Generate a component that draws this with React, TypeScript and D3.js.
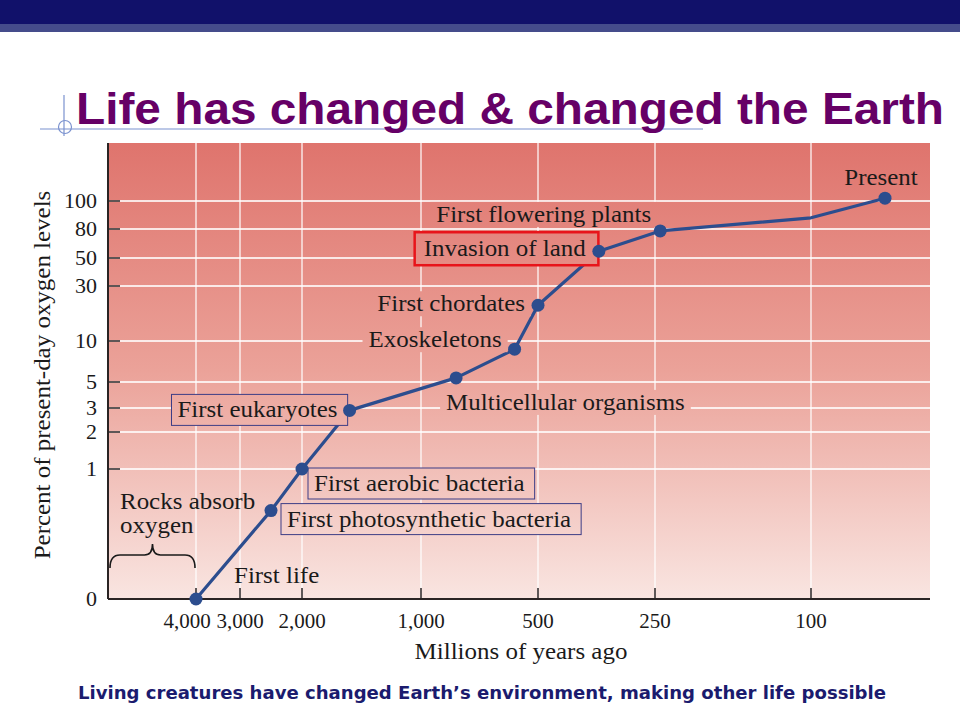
import React, { useEffect, useRef } from "react";
import * as d3 from "d3";

// ---- data ----
const eventNames = [
  "First life",
  "First photosynthetic bacteria",
  "First aerobic bacteria",
  "First eukaryotes",
  "Multicellular organisms",
  "Exoskeletons",
  "First chordates",
  "Invasion of land",
  "First flowering plants",
  "",
  "Present",
];
const millionsYearsAgo = [4000, 2500, 2000, 1600, 850, 600, 500, 370, 245, 100, 0];
const oxygenPercent = [0, 0.68, 1, 2.9, 5.5, 9, 23, 57, 78, 88, 102];

const xTickValues = [4000, 3000, 2000, 1000, 500, 250, 100];
const xTickLabels = ["4,000", "3,000", "2,000", "1,000", "500", "250", "100"];
const yTickValues = [0, 1, 2, 3, 5, 10, 30, 50, 80, 100];
const yTickLabels = ["0", "1", "2", "3", "5", "10", "30", "50", "80", "100"];

const titleText = "Life has changed & changed the Earth";
const captionText = "Living creatures have changed Earth\u2019s environment, making other life possible";
const xAxisTitle = "Millions of years ago";
const yAxisTitle = "Percent of present-day oxygen levels";

// ---- layout ----
const W = 960, H = 720;
const P = { left: 108, top: 143, right: 930, bottom: 599 };
// the hand-drawn axes are uneven: piecewise scales through the tick marks
const xBreakDomain = [4000, 3000, 2000, 1000, 500, 250, 100, 0];
const xBreakOffsets = [88, 132, 194, 313, 430, 547, 703, 777];
const yBreakOffsets = [456, 326, 289, 265, 239, 198, 143, 115, 86, 58];

// label placement relative to its point: [dx, dy, anchor, style]
const labelLayout: [number, number, string, string][] = [
  [38, -16, "start", "plain"],
  [16, 16, "start", "box"],
  [12, 22, "start", "box"],
  [-12, 7, "end", "box"],
  [-10, 32, "start", "bg"],
  [-13, -2, "end", "bg"],
  [-13, 6, "end", "bg"],
  [-13, 5, "end", "red"],
  [-9, -9, "end", "bg"],
  [0, 0, "start", "plain"],
  [-4, -13, "middle", "plain"],
];

const SERIF = "'Liberation Serif', 'DejaVu Serif', serif";
const WIDEN = 1.085; // the original face is a little wider than Times
const LINE = "#2c4d8e";

function widen(t: d3.Selection<SVGTextElement, unknown, null, undefined>) {
  const w = (t.node() as SVGTextElement).getComputedTextLength();
  t.attr("textLength", w * WIDEN).attr("lengthAdjust", "spacingAndGlyphs");
}

export default function App() {
  const ref = useRef<SVGSVGElement | null>(null);

  useEffect(() => {
    const svg = d3.select(ref.current);
    svg.selectAll("*").remove();

    const x = d3.scaleLinear().domain(xBreakDomain).range(xBreakOffsets.map((o) => P.left + o));
    const y = d3.scaleLinear().domain(yTickValues).range(yBreakOffsets.map((o) => P.top + o));

    const defs = svg.append("defs");
    const g = defs.append("linearGradient").attr("id", "bg").attr("gradientUnits", "userSpaceOnUse")
      .attr("x1", 0).attr("x2", 0).attr("y1", P.top).attr("y2", P.bottom);
    g.append("stop").attr("offset", "0").attr("stop-color", "#df746d");
    g.append("stop").attr("offset", "0.5").attr("stop-color", "#eba299");
    g.append("stop").attr("offset", "1").attr("stop-color", "#f9e5e1");

    svg.append("rect").attr("width", W).attr("height", H).attr("fill", "#ffffff");

    // header bars
    svg.append("rect").attr("x", 0).attr("y", 0).attr("width", W).attr("height", 24).attr("fill", "#11116a");
    svg.append("rect").attr("x", 0).attr("y", 24).attr("width", W).attr("height", 8).attr("fill", "#454c8b");

    // title decoration
    const deco = "#7b92cf";
    svg.append("line").attr("x1", 40).attr("x2", 703).attr("y1", 129).attr("y2", 129).attr("stroke", deco).attr("stroke-width", 1.2);
    svg.append("line").attr("x1", 64).attr("x2", 64).attr("y1", 95).attr("y2", 136).attr("stroke", deco).attr("stroke-width", 1.2);
    svg.append("circle").attr("cx", 65).attr("cy", 127).attr("r", 6.5).attr("fill", "none").attr("stroke", deco).attr("stroke-width", 1.2);

    svg.append("text").attr("x", 76).attr("y", 124).text(titleText)
      .attr("font-family", "'Liberation Sans', Arial, sans-serif").attr("font-weight", "bold")
      .attr("font-size", 45).attr("fill", "#660066")
      .attr("textLength", 868).attr("lengthAdjust", "spacingAndGlyphs");

    // plot background
    svg.append("rect").attr("x", P.left).attr("y", P.top).attr("width", P.right - P.left)
      .attr("height", P.bottom - P.top).attr("fill", "url(#bg)");

    // grid
    const grid = svg.append("g").attr("stroke", "#ffffff").attr("stroke-opacity", 0.8);
    grid.selectAll("line.v").data(xTickValues).join("line")
      .attr("x1", (d) => x(d)).attr("x2", (d) => x(d)).attr("y1", P.top).attr("y2", P.bottom)
      .attr("stroke-width", 1.5);
    grid.selectAll("line.h").data(yTickValues.filter((d) => d > 0)).join("line")
      .attr("x1", P.left).attr("x2", P.right).attr("y1", (d) => y(d)).attr("y2", (d) => y(d))
      .attr("stroke-width", 2);

    // axes
    const axisColor = "#2a2424";
    svg.append("line").attr("x1", P.left).attr("x2", P.left).attr("y1", P.top).attr("y2", P.bottom)
      .attr("stroke", axisColor).attr("stroke-width", 2);
    svg.append("line").attr("x1", P.left).attr("x2", P.right).attr("y1", P.bottom).attr("y2", P.bottom)
      .attr("stroke", axisColor).attr("stroke-width", 2);
    svg.append("g").selectAll("line").data(yTickValues.filter((d) => d > 0)).join("line")
      .attr("x1", P.left).attr("x2", P.left + 12).attr("y1", (d) => y(d)).attr("y2", (d) => y(d))
      .attr("stroke", axisColor).attr("stroke-width", 1.5);
    svg.append("g").selectAll("line").data(xTickValues).join("line")
      .attr("x1", (d) => x(d)).attr("x2", (d) => x(d)).attr("y1", P.bottom).attr("y2", P.bottom - 11)
      .attr("stroke", axisColor).attr("stroke-width", 1.5);

    svg.append("g").selectAll("text").data(yTickValues).join("text")
      .attr("x", 97).attr("y", (d) => y(d)).attr("dy", "0.34em").attr("text-anchor", "end")
      .attr("font-family", SERIF).attr("font-size", 22).attr("fill", "#1a1a1a")
      .text((d, i) => yTickLabels[i]);
    svg.append("g").selectAll("text").data(xTickValues).join("text")
      .attr("x", (d, i) => x(d) - (i === 0 ? 9 : 0)).attr("y", 628).attr("text-anchor", "middle")
      .attr("font-family", SERIF).attr("font-size", 21).attr("fill", "#1a1a1a")
      .text((d, i) => xTickLabels[i]);

    widen(svg.append("text").attr("x", 521).attr("y", 659).attr("text-anchor", "middle")
      .attr("font-family", SERIF).attr("font-size", 23).attr("fill", "#1a1a1a").text(xAxisTitle) as any);
    widen(svg.append("text").attr("transform", "translate(50,375) rotate(-90)").attr("text-anchor", "middle")
      .attr("font-family", SERIF).attr("font-size", 23).attr("fill", "#1a1a1a").text(yAxisTitle) as any);

    // rocks absorb oxygen + brace
    widen(svg.append("text").attr("x", 120).attr("y", 509).attr("font-family", SERIF).attr("font-size", 23)
      .attr("fill", "#1a1a1a").text("Rocks absorb") as any);
    widen(svg.append("text").attr("x", 120).attr("y", 533).attr("font-family", SERIF).attr("font-size", 23)
      .attr("fill", "#1a1a1a").text("oxygen") as any);
    const bx0 = P.left + 2, bx1 = x(4000) - 1, bm = (bx0 + bx1) / 2;
    svg.append("path")
      .attr("d", `M${bx0},568 Q${bx0},555 ${bx0 + 10},555 L${bm - 8},555 Q${bm},555 ${bm},544 Q${bm},555 ${bm + 8},555 L${bx1 - 10},555 Q${bx1},555 ${bx1},568`)
      .attr("fill", "none").attr("stroke", "#1a1a1a").attr("stroke-width", 1.6);

    // line + points
    const pts = millionsYearsAgo.map((m, i) => [x(m), y(oxygenPercent[i])] as [number, number]);
    svg.append("path").attr("d", d3.line()(pts)).attr("fill", "none").attr("stroke", LINE)
      .attr("stroke-width", 3.2).attr("stroke-linejoin", "round");

    // labels
    const lab = svg.append("g");
    eventNames.forEach((name, i) => {
      if (!name) return;
      const [dx, dy, anchor, style] = labelLayout[i];
      const gg = lab.append("g");
      const t = gg.append("text").attr("x", pts[i][0] + dx).attr("y", pts[i][1] + dy)
        .attr("text-anchor", anchor).attr("font-family", SERIF).attr("font-size", 23)
        .attr("fill", "#1a1a1a").text(name);
      widen(t as any);
      const bb = (t.node() as SVGTextElement).getBBox();
      if (style === "box") {
        gg.insert("rect", "text").attr("x", bb.x - 6).attr("y", bb.y - 3).attr("width", bb.width + 16)
          .attr("height", bb.height + 6).attr("fill", "url(#bg)").attr("stroke", "#3d3d86").attr("stroke-width", 1);
      } else if (style === "red") {
        gg.insert("rect", "text").attr("x", bb.x - 9).attr("y", bb.y - 4).attr("width", bb.width + 21)
          .attr("height", bb.height + 8).attr("fill", "url(#bg)").attr("stroke", "#e8141a").attr("stroke-width", 2.5);
      } else if (style === "bg") {
        gg.insert("rect", "text").attr("x", bb.x - 6).attr("y", bb.y).attr("width", bb.width + 12)
          .attr("height", bb.height).attr("fill", "url(#bg)");
      }
    });

    svg.append("g").selectAll("circle").data(pts.filter((_, i) => eventNames[i] !== "")).join("circle")
      .attr("cx", (d) => d[0]).attr("cy", (d) => d[1]).attr("r", 6.5).attr("fill", LINE);

    // caption
    svg.append("text").attr("x", 482).attr("y", 699).attr("text-anchor", "middle")
      .attr("font-family", "'DejaVu Sans', sans-serif").attr("font-weight", "bold")
      .attr("font-size", 17).attr("fill", "#1b1b6e")
      .attr("textLength", 808).attr("lengthAdjust", "spacingAndGlyphs").text(captionText);
  }, []);

  return (
    <svg ref={ref} width={W} height={H} style={{ position: "absolute", left: 0, top: 0, display: "block" }} />
  );
}
